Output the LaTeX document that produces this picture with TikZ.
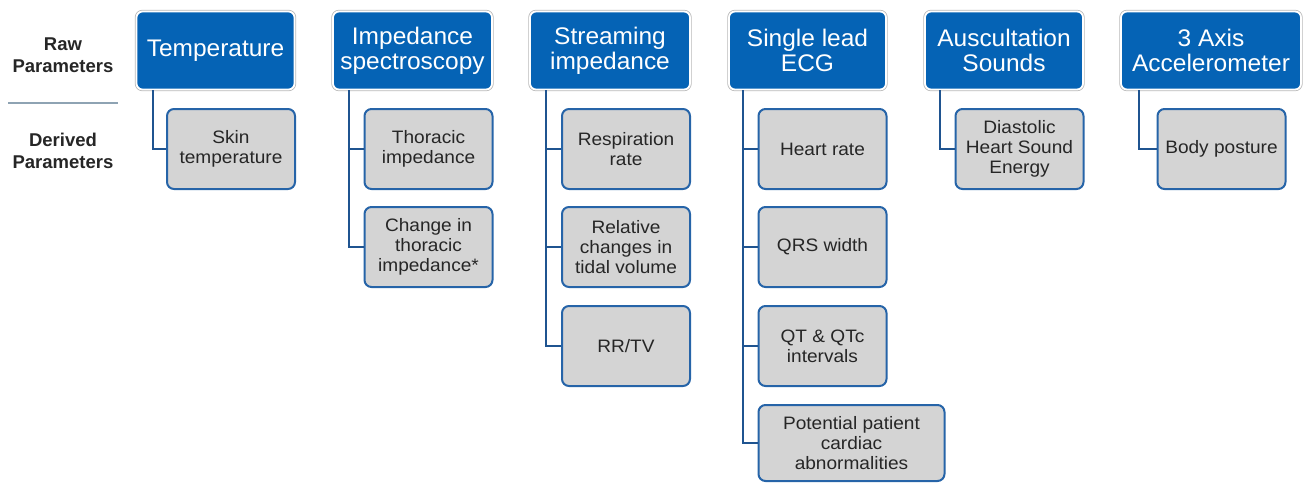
\documentclass[tikz,border=0pt]{standalone}
\usepackage{fontspec}
\setmainfont{Liberation Sans}
\newfontfamily\topfont{Liberation Sans}[FakeStretch=1.02]
\newfontfamily\subfont{Liberation Sans}[FakeStretch=1.06]
\begin{document}
\begin{tikzpicture}[x=1pt,y=-1pt,
  rawbox/.style={preaction={draw=black!28,line width=3.4pt,rounded corners=6pt},
    fill=blueA,draw=white,line width=1.8pt,rounded corners=6pt,
    minimum height=78pt,inner sep=0pt,align=center,text=white,
    font=\topfont\fontsize{24}{25}\selectfont},
  derbox/.style={fill=grayA,draw=blueB,line width=2pt,rounded corners=7pt,
    minimum width=128pt,minimum height=80pt,inner sep=0pt,align=center,
    text=black!85,font=\subfont\fontsize{18}{20}\selectfont},
  conn/.style={draw=blueC,line width=2pt},
  rowlab/.style={align=center,font=\bfseries\fontsize{18.5}{22}\selectfont,text=black!85}
]
\definecolor{blueA}{HTML}{0563B5}
\definecolor{blueB}{HTML}{2664A8}
\definecolor{blueC}{HTML}{1F5490}
\definecolor{grayA}{HTML}{D4D4D4}
\definecolor{sepc}{HTML}{8EA3B3}
\useasboundingbox (0,0) rectangle (1304,482);

% row labels
\node[rowlab] (raw) at (63,55) {Raw\\Parameters};
\node[rowlab] (der) at (63,151) {Derived\\Parameters};
\coordinate (sepl) at (8,103);
\coordinate (sepr) at (118,103);
\draw[sepc,line width=1.2pt] (sepl) -- (sepr);

% raw parameter boxes
\node[rawbox,minimum width=158pt] (temp) at (215.5,50.5) {Temperature};
\node[rawbox,minimum width=159pt] (imp) at (412.5,50.5) {Impedance\\spectroscopy};
\node[rawbox,minimum width=160pt] (str) at (610,50.5) {Streaming\\impedance};
\node[rawbox,minimum width=157pt] (ecg) at (807.5,50.5) {Single lead\\ECG};
\node[rawbox,minimum width=158pt] (aus) at (1004,50.5) {Auscultation\\Sounds};
\node[rawbox,minimum width=180pt] (acc) at (1211,50.5) {3 Axis\\Accelerometer};

% derived boxes
\node[derbox] (skin) at (231,149) {Skin\\temperature};
\node[derbox] (thor) at (428.5,149) {Thoracic\\impedance};
\node[derbox] (chg) at (428.5,247) {Change in\\thoracic\\impedance*};
\node[derbox] (resp) at (626,149) {Respiration\\rate};
\node[derbox] (rel) at (626,247) {Relative\\changes in\\tidal volume};
\node[derbox] (rrtv) at (626,346) {RR/TV};
\node[derbox] (hr) at (822.5,149) {Heart rate};
\node[derbox] (qrs) at (822.5,247) {QRS width};
\node[derbox] (qt) at (822.5,346) {QT \& QTc\\intervals};
\node[derbox,minimum width=186pt,minimum height=76pt] (pot) at (851.5,443) {Potential patient\\cardiac\\abnormalities};
\node[derbox] (dia) at (1019.5,149) {Diastolic\\Heart Sound\\Energy};
\node[derbox] (body) at (1221.5,149) {Body posture};

% connectors
\draw[conn] ([xshift=17pt]temp.south west) |- (skin.west);
\draw[conn] ([xshift=17pt]imp.south west) |- (thor.west);
\draw[conn] ([xshift=17pt]imp.south west) |- (chg.west);
\draw[conn] ([xshift=17pt]str.south west) |- (resp.west);
\draw[conn] ([xshift=17pt]str.south west) |- (rel.west);
\draw[conn] ([xshift=17pt]str.south west) |- (rrtv.west);
\draw[conn] ([xshift=15pt]ecg.south west) |- (hr.west);
\draw[conn] ([xshift=15pt]ecg.south west) |- (qrs.west);
\draw[conn] ([xshift=15pt]ecg.south west) |- (qt.west);
\draw[conn] ([xshift=15pt]ecg.south west) |- (pot.west);
\draw[conn] ([xshift=16pt]aus.south west) |- (dia.west);
\draw[conn] ([xshift=19pt]acc.south west) |- (body.west);
\end{tikzpicture}
\end{document}
